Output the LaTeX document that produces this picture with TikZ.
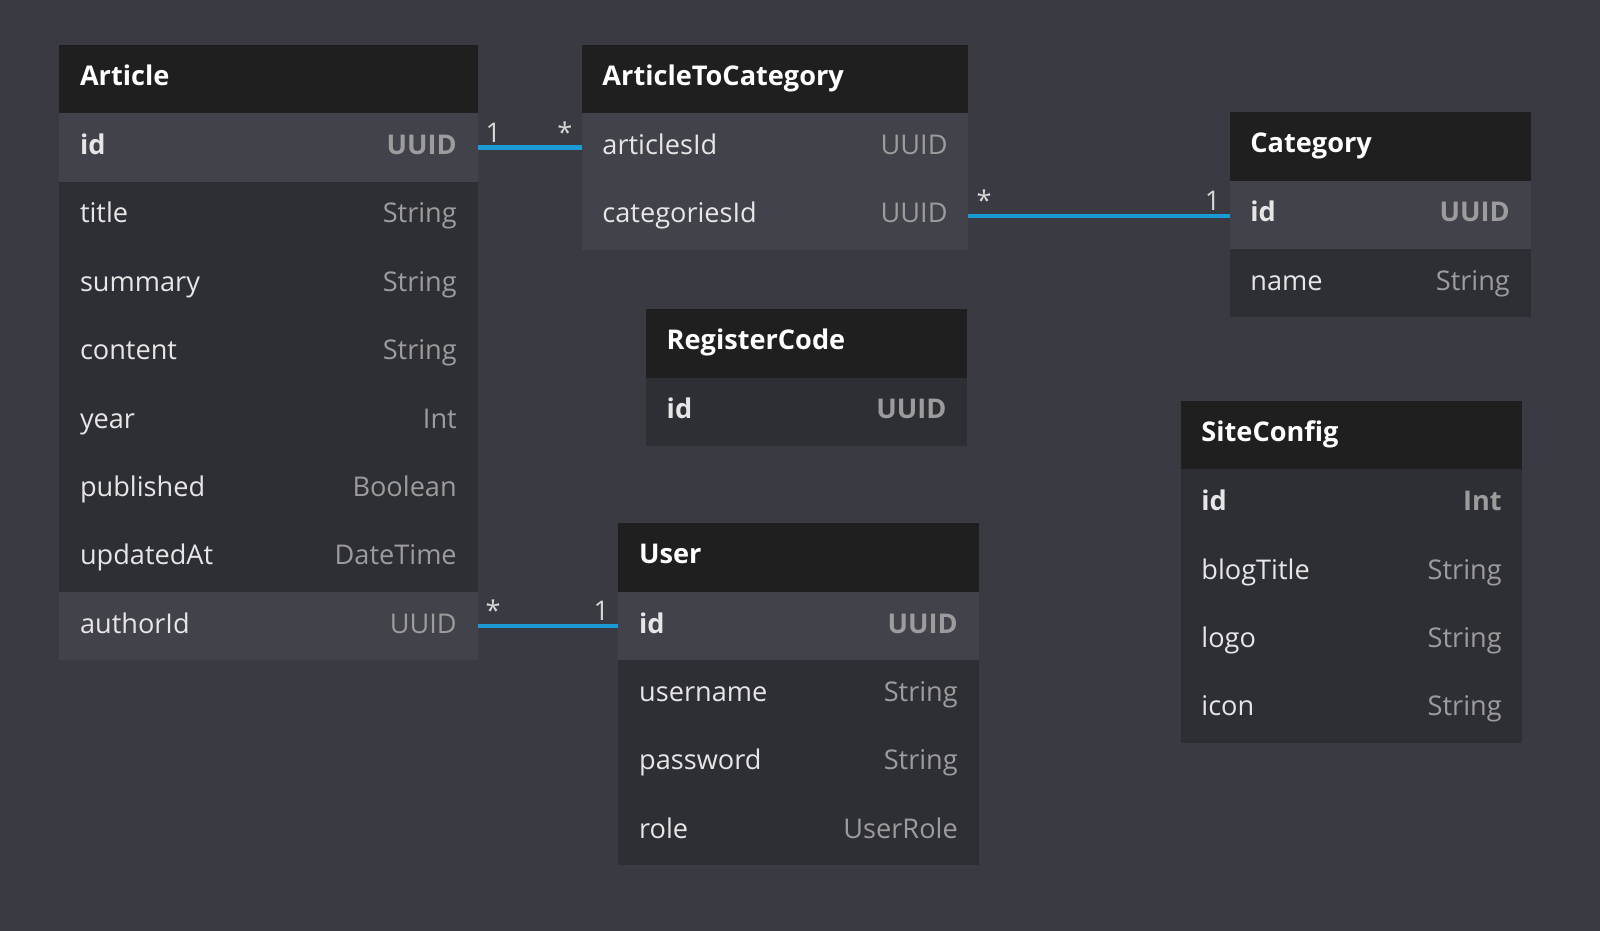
\documentclass[tikz,border=0pt]{standalone}
\usepackage{fontspec}
\setmainfont{Open Sans}
\usepackage{tikz}
\usetikzlibrary{positioning}

\definecolor{bgc}{HTML}{3A3B42}
\definecolor{hdrc}{HTML}{1F1F20}
\definecolor{rowc}{HTML}{2E2F35}
\definecolor{keyc}{HTML}{42434A}
\definecolor{namec}{HTML}{E6E6E6}
\definecolor{typec}{HTML}{9C9C9C}
\definecolor{linkc}{HTML}{1C9AD6}
\definecolor{cardc}{HTML}{D6D6D6}

\newcommand{\fsz}{\fontsize{13.3}{16}\selectfont}

\tikzset{
  box/.style={inner sep=0pt, outer sep=0pt, minimum height=33.5pt, minimum width=\tw},
  hdr/.style={box, fill=hdrc, anchor=north west},
  row/.style={box, fill=rowc, below=0pt of #1},
  keyrow/.style={box, fill=keyc, below=0pt of #1},
  txt/.style={inner sep=0pt, text height=10pt, text depth=3pt},
  tname/.style={txt, anchor=west, xshift=10pt, yshift=0.5pt, text=white, font=\bfseries\fsz},
  fname/.style={txt, anchor=west, xshift=10pt, text=namec, font=\fsz},
  ftype/.style={txt, anchor=east, xshift=-10pt, text=typec, font=\fsz},
  kname/.style={fname, font=\bfseries\fsz},
  ktype/.style={ftype, font=\bfseries\fsz},
  link/.style={draw=linkc, line width=2pt},
  cardl/.style={inner sep=0pt, text=cardc, font=\fsz, anchor=south west, xshift=3pt, yshift=1.5pt},
  cardr/.style={inner sep=0pt, text=cardc, font=\fsz, anchor=south east, xshift=-3.5pt, yshift=1.5pt}
}

\begin{document}
\begin{tikzpicture}[x=0.5pt, y=-0.5pt]
  \fill[bgc] (0,0) rectangle (1568,912);
  \useasboundingbox (0,0) rectangle (1568,912);

  % Article
  \begin{scope}
    \def\tw{205pt}
    \node[hdr, label={[tname]west:Article}] (art) at (58,44) {};
    \node[keyrow=art, label={[kname]west:id}, label={[ktype]east:UUID}] (art-id) {};
    \foreach \f/\t [remember=\f as \last (initially id)] in
      {title/String, summary/String, content/String, year/Int,
       published/Boolean, updatedAt/DateTime}
      \node[row=art-\last, label={[fname]west:\f}, label={[ftype]east:\t}] (art-\f) {};
    \node[keyrow=art-updatedAt, label={[fname]west:authorId}, label={[ftype]east:UUID}] (art-authorId) {};
  \end{scope}

  % ArticleToCategory
  \begin{scope}
    \def\tw{189.5pt}
    \node[hdr, label={[tname]west:ArticleToCategory}] (a2c) at (570,44) {};
    \node[keyrow=a2c, label={[fname]west:articlesId}, label={[ftype]east:UUID}] (a2c-articlesId) {};
    \node[keyrow=a2c-articlesId, label={[fname]west:categoriesId}, label={[ftype]east:UUID}] (a2c-categoriesId) {};
  \end{scope}

  % Category
  \begin{scope}
    \def\tw{147.5pt}
    \node[hdr, label={[tname]west:Category}] (cat) at (1205,110) {};
    \node[keyrow=cat, label={[kname]west:id}, label={[ktype]east:UUID}] (cat-id) {};
    \node[row=cat-id, label={[fname]west:name}, label={[ftype]east:String}] (cat-name) {};
  \end{scope}

  % RegisterCode
  \begin{scope}
    \def\tw{157.5pt}
    \node[hdr, label={[tname]west:RegisterCode}] (reg) at (633,303) {};
    \node[row=reg, label={[kname]west:id}, label={[ktype]east:UUID}] (reg-id) {};
  \end{scope}

  % SiteConfig
  \begin{scope}
    \def\tw{167.5pt}
    \node[hdr, label={[tname]west:SiteConfig}] (site) at (1157,393) {};
    \node[row=site, label={[kname]west:id}, label={[ktype]east:Int}] (site-id) {};
    \foreach \f/\t [remember=\f as \last (initially id)] in
      {blogTitle/String, logo/String, icon/String}
      \node[row=site-\last, label={[fname]west:\f}, label={[ftype]east:\t}] (site-\f) {};
  \end{scope}

  % User
  \begin{scope}
    \def\tw{176.5pt}
    \node[hdr, label={[tname]west:User}] (usr) at (606,513) {};
    \node[keyrow=usr, label={[kname]west:id}, label={[ktype]east:UUID}] (usr-id) {};
    \foreach \f/\t [remember=\f as \last (initially id)] in
      {username/String, password/String, role/UserRole}
      \node[row=usr-\last, label={[fname]west:\f}, label={[ftype]east:\t}] (usr-\f) {};
  \end{scope}

  % relations
  \draw[link] (art-id.east) -- (a2c-articlesId.west)
    node[cardl, at start] {1} node[cardr, at end] {*};
  \draw[link] (a2c-categoriesId.east) -- (a2c-categoriesId.east -| cat-id.west)
    node[cardl, at start] {*} node[cardr, at end] {1};
  \draw[link] (art-authorId.east) -- (usr-id.west)
    node[cardl, at start] {*} node[cardr, at end] {1};
\end{tikzpicture}
\end{document}
